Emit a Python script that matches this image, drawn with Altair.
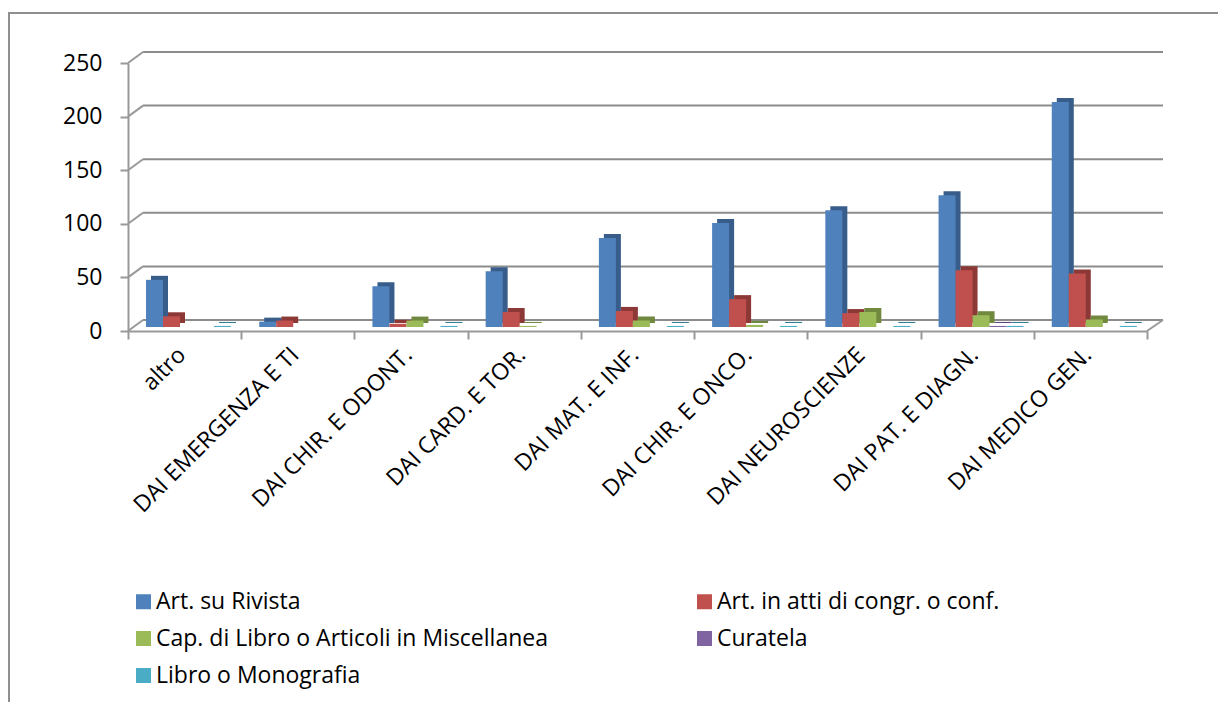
import altair as alt
import pandas as pd

categories = ["altro", "DAI EMERGENZA E TI", "DAI CHIR. E ODONT.", "DAI CARD. E TOR.",
              "DAI MAT. E INF.", "DAI CHIR. E ONCO.", "DAI NEUROSCIENZE",
              "DAI PAT. E DIAGN.", "DAI MEDICO GEN."]
series = ["Art. su Rivista", "Art. in atti di congr. o conf.",
          "Cap. di Libro o Articoli in Miscellanea", "Curatela", "Libro o Monografia"]
art_rivista = [44, 5, 38, 52, 83, 97, 109, 123, 210]
art_atti = [10, 6, 3, 14, 15, 26, 13, 53, 50]
cap_libro = [None, None, 6, 1, 6, 2, 14, 11, 7]
curatela = [None, None, None, None, None, None, None, 1, None]
libro = [1, None, 1, None, 1, 1, 1, 1, 1]
y_ticks = [0, 50, 100, 150, 200, 250]

colors = ["#4F81BD", "#C0504D", "#9BBB59", "#8064A2", "#4BACC6"]
dark = ["#385D8A", "#8C3836", "#71893F", "#5C4776", "#357D91"]

rows = []
for s, vals in zip(series, [art_rivista, art_atti, cap_libro, curatela, libro]):
    for c, v in zip(categories, vals):
        if v is not None:
            rows.append({"cat": c, "series": s, "value": v})
df = pd.DataFrame(rows)
grid_df = pd.DataFrame({"v": y_ticks})

W, H = 1019, 268
FONT = "Open Sans"
FS = 23
GRAY = "#8C8C8C"
AXC = "#999999"

yscale = alt.Scale(domain=[0, 250], nice=False)
xscale = alt.Scale(domain=categories, paddingInner=0, paddingOuter=0)

yaxis = alt.Axis(values=y_ticks, labelFontSize=FS, labelFont=FONT, labelColor="#000000",
                 labelPadding=18, tickSize=8, domainColor=AXC, domainWidth=2,
                 tickColor=AXC, tickWidth=2, grid=False)
xaxis = alt.Axis(labelAngle=315, labelAlign="right", labelBaseline="middle",
                 labelFontSize=FS, labelFont=FONT, labelColor="#000000",
                 labelPadding=12, labelOffset=-3, tickSize=8, tickBand="extent",
                 domainColor=AXC, domainWidth=2, tickColor=AXC,
                 tickWidth=2, grid=False, labelLimit=400)

grid = alt.Chart(grid_df).mark_rule(color=GRAY, strokeWidth=2, yOffset=-11).encode(
    y=alt.Y("v:Q", scale=yscale, axis=yaxis, title=None),
    x=alt.value(15), x2=alt.value(W + 16))

conn = alt.Chart(grid_df).mark_rule(color=AXC, strokeWidth=2, y2Offset=-11).encode(
    y=alt.Y("v:Q", scale=yscale, axis=yaxis, title=None), y2="v:Q",
    x=alt.value(0), x2=alt.value(15))

floor_right = alt.Chart(grid_df[grid_df.v == 0]).mark_rule(color=AXC, strokeWidth=2, y2Offset=-11).encode(
    y=alt.Y("v:Q", scale=yscale, axis=yaxis, title=None), y2="v:Q",
    x=alt.value(W), x2=alt.value(W + 16))

shadow = alt.Chart(df).mark_bar(yOffset=-8, y2Offset=-4).encode(
    x=alt.X("cat:N", scale=xscale, sort=categories, axis=xaxis, title=None),
    xOffset=alt.XOffset("series:N", sort=series,
                        scale=alt.Scale(domain=series, range=[23, 108], paddingInner=0, paddingOuter=0)),
    y=alt.Y("value:Q", scale=yscale, axis=yaxis, title=None),
    color=alt.Color("series:N", scale=alt.Scale(domain=series, range=dark), legend=None),
)

bars = alt.Chart(df).mark_bar(yOffset=-4, y2Offset=-4).encode(
    x=alt.X("cat:N", scale=xscale, sort=categories, axis=xaxis, title=None),
    xOffset=alt.XOffset("series:N", sort=series,
                        scale=alt.Scale(domain=series, range=[18, 103], paddingInner=0, paddingOuter=0)),
    y=alt.Y("value:Q", scale=yscale, axis=yaxis, title=None),
    color=alt.Color("series:N", scale=alt.Scale(domain=series, range=colors), sort=series,
                    legend=alt.Legend(title=None, orient="none", legendX=4, legendY=527,
                                      direction="horizontal", columns=2, columnPadding=145,
                                      rowPadding=13,
                                      symbolType="square", symbolSize=225, symbolStrokeWidth=0,
                                      labelFontSize=FS, labelFont=FONT, labelColor="#000000",
                                      labelOffset=1, labelLimit=700, padding=0)),
)

border = alt.Chart(grid_df[grid_df.v == 0]).mark_rect(fill="transparent", stroke="#8F8F8F", strokeWidth=2).encode(
    x=alt.value(-119), x2=alt.value(1218 - 128 + 20),
    y=alt.value(-50), y2=alt.value(702 - 63 + 20))

chart = alt.layer(border, grid, conn, floor_right, shadow, bars).resolve_scale(
    color="independent", xOffset="independent"
).properties(
    width=W, height=H,
    autosize=alt.AutoSizeParams(type="none"),
    padding={"left": 128, "top": 63, "right": 1218 - 128 - W, "bottom": 702 - 63 - H},
    background="#FFFFFF",
).configure(
    font=FONT,
    view=alt.ViewConfig(stroke="transparent", strokeWidth=0),
)

chart.save("out.html", embed_options={"renderer": "svg", "actions": False})
